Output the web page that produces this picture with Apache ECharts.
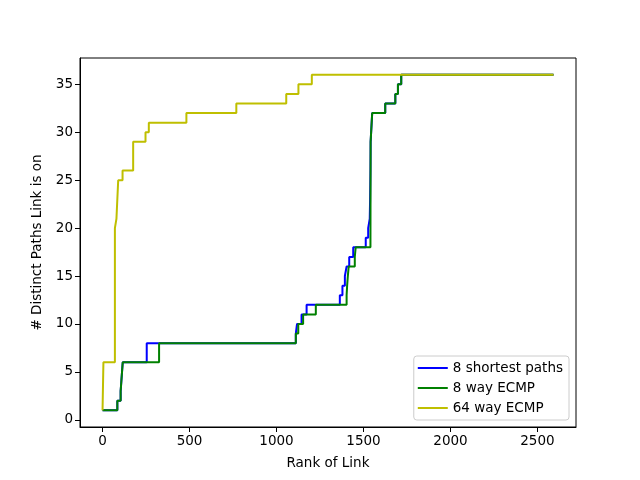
<!DOCTYPE html>
<html>
<head>
<meta charset="utf-8">
<script src="https://cdn.jsdelivr.net/npm/echarts@6/dist/echarts.min.js"></script>
<style>html,body{margin:0;padding:0;background:#fff}#c{width:640px;height:480px}</style>
</head>
<body>
<div id="c"></div>
<script>
// step change points: rank of link where the count becomes the given value
const blueX   = [0, 85, 104, 108, 112, 116, 254, 1111, 1118, 1144, 1173, 1364, 1379, 1393, 1403, 1418, 1441, 1513, 1527, 1536, 1538, 1540, 1541, 1550, 1625, 1683, 1698, 1717, 2592];
const blueY   = [1, 2, 3, 4, 5, 6, 8, 9, 10, 11, 12, 13, 14, 15, 16, 17, 18, 19, 20, 21, 23, 26, 29, 32, 33, 34, 35, 36, 36];
const greenX  = [0, 85, 104, 108, 112, 116, 325, 1111, 1125, 1153, 1226, 1403, 1406, 1410, 1415, 1450, 1455, 1540, 1541, 1550, 1625, 1683, 1698, 1717, 2592];
const greenY  = [1, 2, 3, 4, 5, 6, 8, 9, 10, 11, 12, 13, 14, 15, 16, 17, 18, 19, 29, 32, 33, 34, 35, 36, 36];
const yellowX = [0, 5, 71, 80, 90, 115, 176, 247, 266, 482, 769, 1056, 1126, 1203, 2592];
const yellowY = [1, 6, 20, 21, 25, 26, 29, 30, 31, 32, 33, 34, 35, 36, 36];
const seriesNames = ['8 shortest paths', '8 way ECMP', '64 way ECMP'];
const xTicks = [0, 500, 1000, 1500, 2000, 2500];
const yTicks = [0, 5, 10, 15, 20, 25, 30, 35];

const pairs = (xs, ys) => xs.map((x, i) => [x, ys[i]]);
const font = 'DejaVu Sans';
const chart = echarts.init(document.getElementById('c'));
const axisCommon = {
  axisLine: { show: true, onZero: false, lineStyle: { color: '#000', width: 1 } },
  axisTick: { show: true, inside: false, length: 5, lineStyle: { color: '#000' } },
  splitLine: { show: false },
  nameTextStyle: { fontFamily: font, fontSize: 13.5, color: '#000' }
};
chart.setOption({
  animation: false,
  grid: { left: 80, right: 64, top: 58, bottom: 53, show: true, borderColor: '#000', borderWidth: 1, containLabel: false },
  xAxis: Object.assign({}, axisCommon, {
    type: 'value', min: -129.6, max: 2721.6,
    name: 'Rank of Link', nameLocation: 'middle', nameGap: 29,
    axisTick: Object.assign({}, axisCommon.axisTick, { customValues: xTicks }),
    axisLabel: { customValues: xTicks, formatter: v => String(Math.round(v)), fontFamily: font, fontSize: 13.5, color: '#000', margin: 7 }
  }),
  yAxis: Object.assign({}, axisCommon, {
    type: 'value', min: -0.75, max: 37.75,
    name: '# Distinct Paths Link is on', nameLocation: 'middle', nameGap: 34,
    axisTick: Object.assign({}, axisCommon.axisTick, { customValues: yTicks }),
    axisLabel: { customValues: yTicks, formatter: v => String(Math.round(v)), fontFamily: font, fontSize: 13.5, color: '#000', margin: 7 }
  }),
  legend: {
    orient: 'vertical', right: 71, bottom: 60,
    backgroundColor: 'rgba(255,255,255,0.8)', borderColor: '#cccccc', borderWidth: 1, borderRadius: 3,
    padding: [5, 6, 5, 4], itemGap: 6, itemWidth: 30, itemHeight: 2, icon: 'rect',
    textStyle: { fontFamily: font, fontSize: 13.5, color: '#000' },
    data: seriesNames
  },
  series: [
    { name: seriesNames[0], type: 'line', step: 'end', symbol: 'none', color: '#0000ff', lineStyle: { width: 2 }, data: pairs(blueX, blueY) },
    { name: seriesNames[1], type: 'line', step: 'end', symbol: 'none', color: '#008000', lineStyle: { width: 2 }, data: pairs(greenX, greenY) },
    { name: seriesNames[2], type: 'line', step: 'end', symbol: 'none', color: '#bfbf00', lineStyle: { width: 2 }, data: pairs(yellowX, yellowY) }
  ]
});
</script>
</body>
</html>
